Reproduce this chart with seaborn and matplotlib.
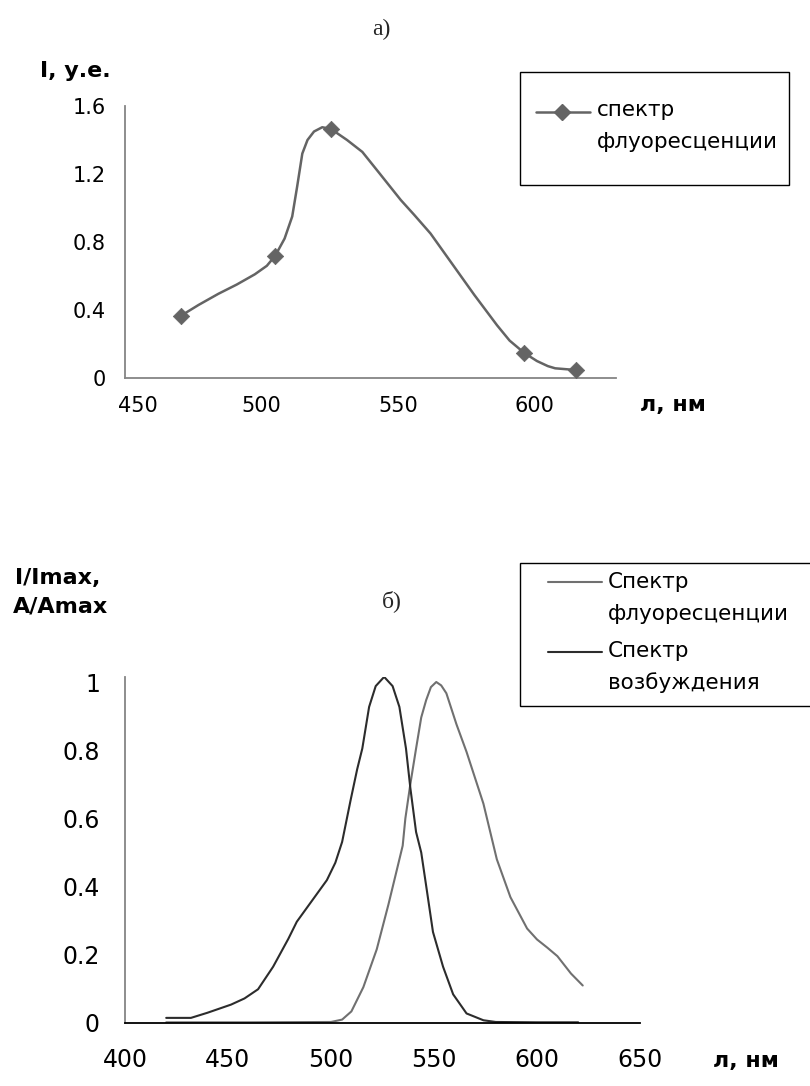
import matplotlib
matplotlib.use("Agg")
import matplotlib.pyplot as plt
import matplotlib.transforms as mtransforms
from matplotlib.lines import Line2D
from matplotlib.patches import Rectangle
import seaborn as sns
import pandas as pd

# ---------------- data ----------------
# panel a) smoothed fluorescence curve and measured points
curve_x = [470.4, 477, 484.2, 491, 497.6, 502, 505.1, 508.5, 511.3, 513.1, 515, 516.9,
           519.3, 522.3, 525.5, 531.4, 537, 543, 551.1, 556, 562, 570, 578, 586.4,
           591, 596.4, 601, 605, 607.7, 615.3]
curve_y = [0.365, 0.43, 0.495, 0.55, 0.61, 0.66, 0.72, 0.82, 0.95, 1.125, 1.32, 1.40,
           1.45, 1.475, 1.465, 1.40, 1.33, 1.21, 1.047, 0.96, 0.85, 0.67, 0.49, 0.31,
           0.22, 0.147, 0.10, 0.07, 0.057, 0.047]
point_x = [470.4, 505.1, 525.5, 596.4, 615.3]
point_y = [0.365, 0.72, 1.465, 0.147, 0.047]

# panel б) normalised spectra
exc_x = [420, 432, 440, 451.5, 458, 464.6, 471.9, 479.3, 483.4, 490.7, 498, 502.1, 505.4,
         509.5, 512.7, 515.2, 518.5, 521.7, 525.8, 529.9, 533.2, 536.4, 538.5, 541.3,
         543.8, 546.5, 549.5, 554.4, 559.3, 565.8, 574, 580, 600, 620]
exc_y = [0.015, 0.015, 0.03, 0.054, 0.072, 0.099, 0.165, 0.247, 0.297, 0.358, 0.419, 0.47,
         0.531, 0.653, 0.744, 0.805, 0.927, 0.988, 1.015, 0.988, 0.927, 0.805, 0.69, 0.56,
         0.50, 0.39, 0.267, 0.165, 0.084, 0.028, 0.008, 0.003, 0.002, 0.002]
fl_x = [420, 460, 500, 505.4, 509.9, 515.7, 522.2, 527.9, 532, 534.8, 536.1, 538.5, 541.3,
        543.8, 546.2, 548.5, 551.1, 553.5, 556, 560.9, 565.8, 574, 580.5, 587.1, 595.2,
        600, 605, 609.9, 616.5, 622.2]
fl_y = [0.002, 0.002, 0.003, 0.01, 0.034, 0.105, 0.216, 0.348, 0.45, 0.52, 0.60, 0.70,
        0.805, 0.896, 0.947, 0.985, 1.0, 0.99, 0.967, 0.876, 0.795, 0.643, 0.48, 0.369,
        0.277, 0.245, 0.221, 0.196, 0.145, 0.11]

top_xticks = [450, 500, 550, 600]
top_yticks = [0, 0.4, 0.8, 1.2, 1.6]
top_yticklabels = ["0", "0.4", "0.8", "1.2", "1.6"]
bot_xticks = [400, 450, 500, 550, 600, 650]
bot_yticks = [0, 0.2, 0.4, 0.6, 0.8, 1.0]
bot_yticklabels = ["0", "0.2", "0.4", "0.6", "0.8", "1"]

legend_top = ["спектр", "флуоресценции"]
legend_bot_fl = ["Спектр", "флуоресценции"]
legend_bot_exc = ["Спектр", "возбуждения"]

# ---------------- style ----------------
sns.set_style("white")
plt.rcParams["font.family"] = ["DejaVu Sans"]

W, H = 810, 1086
fig = plt.figure(figsize=(W / 100, H / 100), dpi=100)


def fx(x):
    return x / W


def fy(y):
    return 1 - y / H


SPINE_GREY = "#858585"
C_TOP = "#646464"
C_FL = "#707070"
C_EXC = "#2c2c2c"

# ---------------- panel a ----------------
ax1 = fig.add_axes([fx(125), fy(378), (616 - 125) / W, (378 - 106) / H])
df_curve = pd.DataFrame({"x": curve_x, "y": curve_y})
df_pts = pd.DataFrame({"x": point_x, "y": point_y})
sns.lineplot(data=df_curve, x="x", y="y", ax=ax1, color=C_TOP, lw=1.8,
             sort=False, estimator=None)
sns.scatterplot(data=df_pts, x="x", y="y", ax=ax1, color=C_TOP, marker="D",
                s=70, edgecolor=C_TOP, linewidth=0.5, zorder=5)
ax1.set_xlim(450, 630)
ax1.set_ylim(0, 1.6)
ax1.set_xticks(top_xticks)
ax1.set_yticks(top_yticks)
ax1.set_yticklabels(top_yticklabels)
ax1.set_xlabel("")
ax1.set_ylabel("")
for s in ["top", "right"]:
    ax1.spines[s].set_visible(False)
for s in ["left", "bottom"]:
    ax1.spines[s].set_color(SPINE_GREY)
    ax1.spines[s].set_linewidth(1.3)
ax1.tick_params(axis="both", direction="in", length=6, width=1, color="black",
                labelsize=15, labelcolor="black")
ax1.tick_params(axis="y", pad=14)
ax1.tick_params(axis="x", pad=13)
# first x label sits a little to the right of the axis corner, as in the original
first_lbl = ax1.get_xticklabels()[0]
first_lbl.set_transform(first_lbl.get_transform() +
                        mtransforms.ScaledTranslation(13 / 100, 0, fig.dpi_scale_trans))

# ---------------- panel б ----------------
ax2 = fig.add_axes([fx(125), fy(1023), (640 - 125) / W, (1023 - 677) / H])
df_fl = pd.DataFrame({"x": fl_x, "y": fl_y})
df_exc = pd.DataFrame({"x": exc_x, "y": exc_y})
sns.lineplot(data=df_fl, x="x", y="y", ax=ax2, color=C_FL, lw=1.5,
             sort=False, estimator=None)
sns.lineplot(data=df_exc, x="x", y="y", ax=ax2, color=C_EXC, lw=1.5,
             sort=False, estimator=None)
ax2.set_xlim(400, 650)
ax2.set_ylim(0, (1023 - 677) / 341)
ax2.set_xticks(bot_xticks)
ax2.set_yticks(bot_yticks)
ax2.set_yticklabels(bot_yticklabels)
ax2.set_xlabel("")
ax2.set_ylabel("")
for s in ["top", "right"]:
    ax2.spines[s].set_visible(False)
ax2.spines["left"].set_color(SPINE_GREY)
ax2.spines["left"].set_linewidth(1.3)
ax2.spines["bottom"].set_color("black")
ax2.spines["bottom"].set_linewidth(1.3)
ax2.tick_params(axis="both", direction="in", length=7, width=1, color="black",
                labelsize=17, labelcolor="black")
ax2.tick_params(axis="y", pad=18)
ax2.tick_params(axis="x", pad=18)

# ---------------- texts ----------------
serif = ["Liberation Serif", "DejaVu Serif"]
fig.text(fx(381), fy(29), "а)", family=serif, fontsize=17, ha="center", va="center")
fig.text(fx(392), fy(601), "б)", family=serif, fontsize=17, ha="center", va="center")

bold = dict(fontsize=16, fontweight="bold", color="black")
fig.text(fx(40), fy(71), "I, у.е.", ha="left", va="center", **bold)
fig.text(fx(640), fy(405), "л, нм", ha="left", va="center", **bold)
fig.text(fx(15), fy(578), "I/Imax,", ha="left", va="center", **bold)
fig.text(fx(13), fy(607), "A/Amax", ha="left", va="center", **bold)
fig.text(fx(713), fy(1061), "л, нм", ha="left", va="center", **bold)

# ---------------- legends (drawn by hand, Excel-like layout) ----------------
fig.add_artist(Rectangle((fx(520), fy(185)), (789 - 520) / W, (185 - 72) / H,
                         transform=fig.transFigure, fill=True, facecolor="white",
                         edgecolor="black", lw=1.0))
fig.add_artist(Line2D([fx(536), fx(590)], [fy(112), fy(112)], color=C_TOP, lw=1.8,
                      transform=fig.transFigure))
fig.add_artist(Line2D([fx(562)], [fy(112)], color=C_TOP, marker="D", markersize=8,
                      transform=fig.transFigure))
lg = dict(fontsize=15.5, ha="left", va="center", color="black")
fig.text(fx(597), fy(110), legend_top[0], **lg)
fig.text(fx(597), fy(142), legend_top[1], **lg)

fig.add_artist(Rectangle((fx(520), fy(706)), (830 - 520) / W, (706 - 563) / H,
                         transform=fig.transFigure, fill=True, facecolor="white",
                         edgecolor="black", lw=1.0, clip_on=False))
fig.add_artist(Line2D([fx(548), fx(602)], [fy(582), fy(582)], color=C_FL, lw=1.5,
                      transform=fig.transFigure))
fig.add_artist(Line2D([fx(548), fx(602)], [fy(652), fy(652)], color=C_EXC, lw=1.5,
                      transform=fig.transFigure))
fig.text(fx(608), fy(582), legend_bot_fl[0], **lg)
fig.text(fx(608), fy(614), legend_bot_fl[1], **lg)
fig.text(fx(608), fy(651), legend_bot_exc[0], **lg)
fig.text(fx(608), fy(683), legend_bot_exc[1], **lg)

fig.savefig("out.png", dpi=100, facecolor="white")
